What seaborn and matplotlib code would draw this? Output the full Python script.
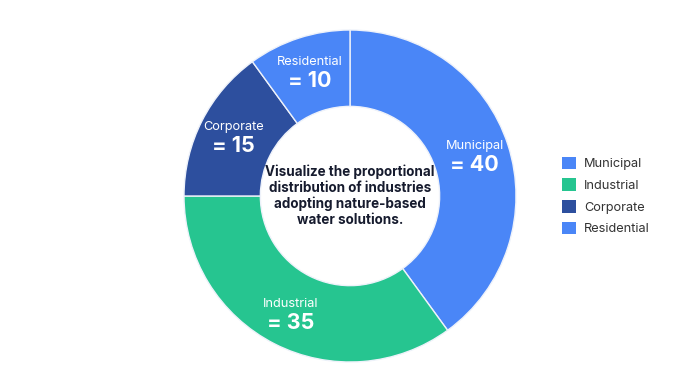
import numpy as np
import seaborn as sns
from matplotlib import pyplot as plt
from matplotlib.patches import Patch

categories = ["Municipal", "Industrial", "Corporate", "Residential"]
values = [40, 35, 15, 10]
colors = ["#4A86F7", "#26C590", "#2D4F9E", "#4A86F7"]
center_text = ("Visualize the proportional\ndistribution of industries\n"
               "adopting nature-based\nwater solutions.")

sns.set_theme(style="white")
plt.rcParams["font.family"] = ["Inter", "DejaVu Sans"]

fig = plt.figure(figsize=(7, 3.91), dpi=100)
# pie centred at (350, 196) px with radius 166 px
ax = fig.add_axes([(350 - 166) / 700, (391 - 196 - 166) / 391, 332 / 700, 332 / 391])

wedges, _ = ax.pie(
    values,
    colors=colors,
    startangle=90,
    counterclock=False,
    radius=1.0,
    wedgeprops=dict(width=0.46, edgecolor="#EEF2FA", linewidth=1.0),
)
ax.set_xlim(-1, 1)
ax.set_ylim(-1, 1)
ax.set_aspect("equal")
ax.axis("off")

for w, cat, val in zip(wedges, categories, values):
    ang = np.deg2rad((w.theta1 + w.theta2) / 2)
    x, y = 0.79 * np.cos(ang), 0.79 * np.sin(ang)
    ax.text(x, y + 0.055, cat, ha="center", va="center", color="white", fontsize=9.2)
    ax.text(x, y - 0.06, f"= {val}", ha="center", va="center", color="white",
            fontsize=15.5, fontweight="bold")

ax.text(0, 0, center_text, ha="center", va="center", color="#161B2E",
        fontsize=9.7, fontweight="bold", linespacing=1.15)

handles = [Patch(facecolor=c, edgecolor="none") for c in colors]
fig.legend(
    handles, categories,
    loc="center left",
    bbox_to_anchor=(550 / 700, 1 - 196 / 391),
    frameon=False,
    fontsize=9.2,
    handlelength=1.15,
    handleheight=1.15,
    handletextpad=0.6,
    labelspacing=0.62,
    labelcolor="#333333",
)

fig.savefig("out.png", dpi=100)
